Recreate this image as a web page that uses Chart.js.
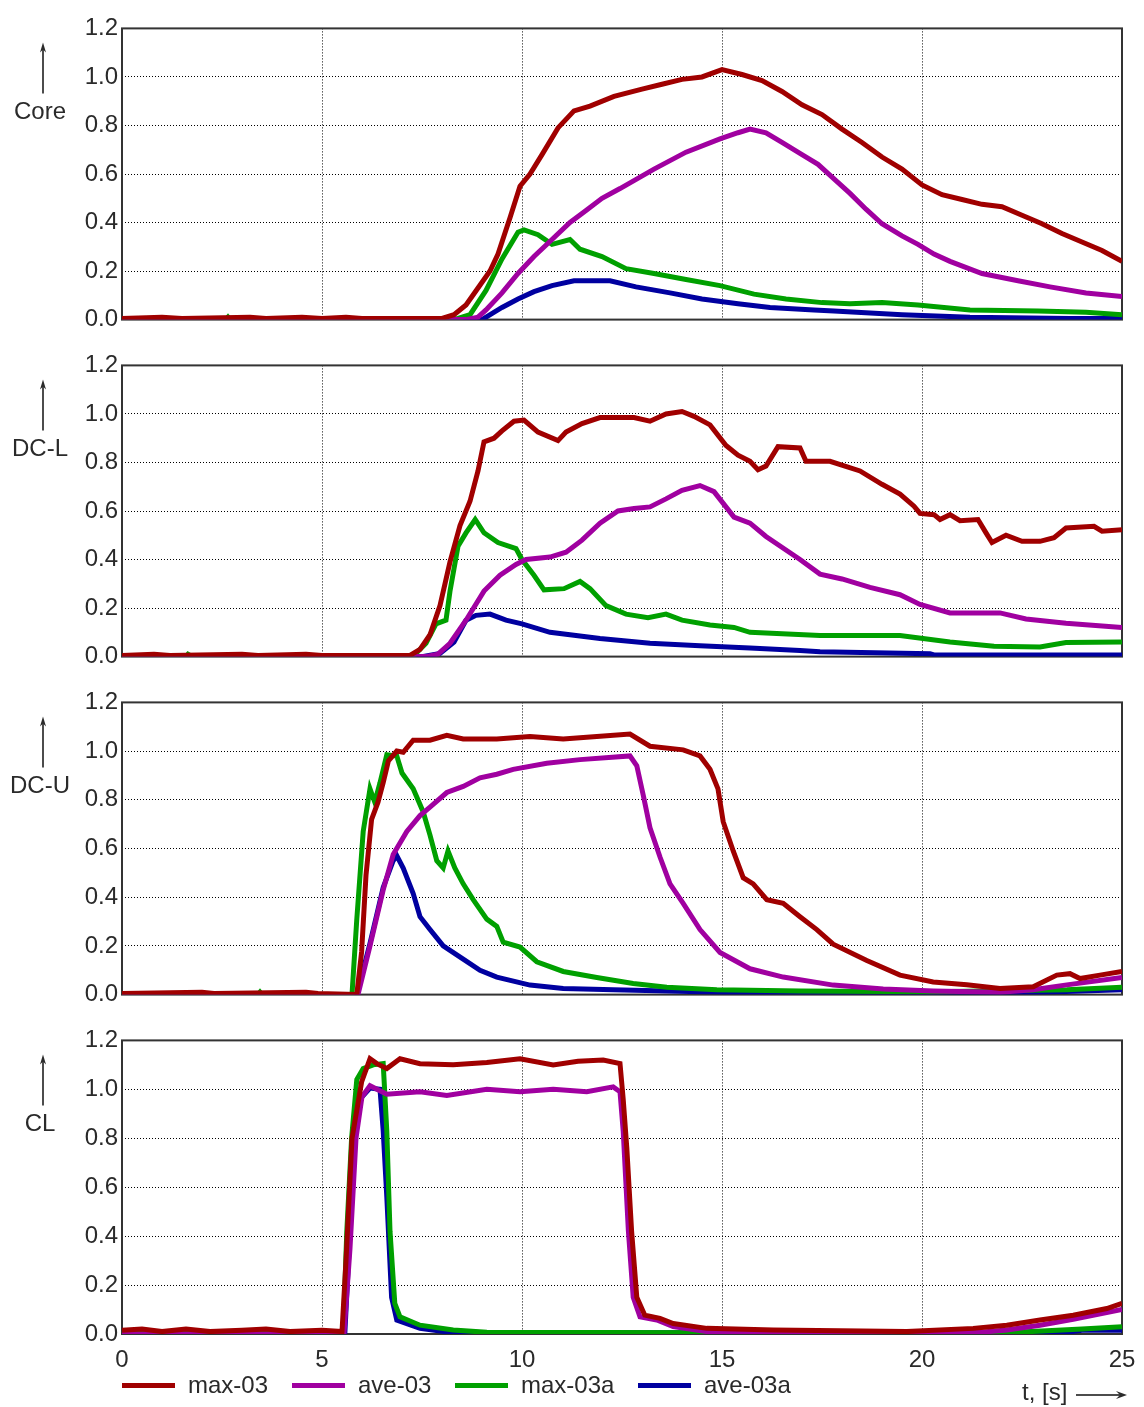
<!DOCTYPE html>
<html>
<head>
<meta charset="utf-8">
<script src="https://cdn.jsdelivr.net/npm/chart.js@4.4.1/dist/chart.umd.min.js"></script>
<style>
  body { margin: 0; background: #fff; }
  #wrap { position: relative; width: 1144px; height: 1407px; background: #fff; overflow: hidden; }
  #wrap canvas { position: absolute; left: 0; }
  #legend { position: absolute; top: 1370px; left: 0; height: 30px; width: 1000px; font: 24px "Liberation Sans", Arial, sans-serif; color: #2a2a2a; }
  .item { position: absolute; top: 0; height: 30px; display: flex; align-items: center; }
  .swatch { width: 53px; height: 5px; margin-right: 13px; }
</style>
</head>
<body>
<div id="wrap">
  <canvas id="core"></canvas>
  <canvas id="dcl"></canvas>
  <canvas id="dcu"></canvas>
  <canvas id="cl"></canvas>
  <div id="legend"></div>
</div>
<script>
// series names and colours
const seriesNames = ['max-03', 'ave-03', 'max-03a', 'ave-03a'];
const seriesColors = ['#a00000', '#a000a0', '#00a000', '#0000a0'];

// x ticks every 5 s, y ticks every 0.2
const timeTicks = [0, 5, 10, 15, 20, 25];
const valueTicks = [0, 0.2, 0.4, 0.6, 0.8, 1.0, 1.2];

// ---- Core ----  [t, value]
const coreMax03 = [[0,0.005],[1,0.01],[1.5,0.005],[3.2,0.01],[3.6,0.005],[4.5,0.01],[5,0.005],[5.6,0.01],[6,0.005],[8.0,0.005],[8.3,0.02],[8.6,0.06],[8.9,0.13],[9.2,0.2],[9.4,0.27],[9.7,0.42],[9.95,0.55],[10.2,0.6],[10.5,0.68],[10.9,0.79],[11.3,0.86],[11.7,0.88],[12.3,0.92],[13,0.95],[13.5,0.97],[14,0.99],[14.5,1.0],[15,1.03],[15.5,1.01],[16,0.985],[16.5,0.94],[17,0.885],[17.5,0.845],[18,0.785],[18.5,0.73],[19,0.67],[19.5,0.62],[20,0.555],[20.5,0.515],[21,0.495],[21.5,0.475],[22,0.465],[22.5,0.43],[23,0.395],[23.5,0.355],[24,0.32],[24.5,0.285],[25,0.24]];
const coreAve03 = [[0,0],[8.6,0],[8.9,0.01],[9.1,0.04],[9.5,0.11],[9.9,0.19],[10.3,0.26],[10.75,0.33],[11.2,0.4],[11.6,0.45],[12.0,0.5],[12.45,0.54],[13.3,0.62],[14.1,0.69],[14.95,0.745],[15.4,0.77],[15.7,0.785],[16.1,0.77],[16.5,0.73],[17.0,0.68],[17.4,0.64],[17.8,0.58],[18.2,0.52],[18.6,0.455],[19.0,0.395],[19.5,0.345],[19.9,0.31],[20.3,0.27],[20.7,0.24],[21.5,0.19],[22.4,0.16],[23.2,0.135],[24.1,0.11],[25,0.095]];
const coreMax03a = [[0,0],[2.6,0],[2.65,0.01],[2.7,0],[6.0,0],[8.4,0.005],[8.7,0.02],[9.1,0.12],[9.5,0.25],[9.9,0.36],[10.05,0.37],[10.4,0.35],[10.75,0.31],[11.2,0.33],[11.45,0.29],[12.0,0.26],[12.6,0.21],[13.3,0.19],[14.1,0.165],[14.95,0.14],[15.8,0.105],[16.6,0.085],[17.5,0.07],[18.2,0.065],[19,0.07],[19.9,0.06],[21.2,0.04],[22.9,0.035],[24.1,0.03],[25,0.02]];
const coreAve03a = [[0,0],[9.0,0],[9.5,0.05],[9.9,0.085],[10.3,0.115],[10.75,0.14],[11.3,0.16],[12.2,0.16],[12.85,0.135],[13.7,0.11],[14.5,0.085],[15.4,0.065],[16.2,0.05],[17.3,0.04],[17.8,0.035],[19.5,0.02],[21.2,0.01],[23.7,0.005],[25,0.005]];

// ---- DC-L ----
const dclMax03 = [[0,0.005],[0.8,0.01],[1.2,0.005],[3.0,0.01],[3.4,0.005],[4.6,0.01],[5,0.005],[7.2,0.005],[7.45,0.03],[7.7,0.09],[7.95,0.21],[8.2,0.39],[8.45,0.54],[8.7,0.64],[8.9,0.765],[9.05,0.885],[9.3,0.9],[9.5,0.93],[9.8,0.97],[10.05,0.975],[10.4,0.925],[10.9,0.89],[11.1,0.925],[11.5,0.96],[11.95,0.985],[12.8,0.985],[13.2,0.97],[13.6,1.0],[14.0,1.01],[14.3,0.99],[14.7,0.955],[15.1,0.87],[15.4,0.83],[15.7,0.805],[15.9,0.77],[16.1,0.785],[16.4,0.865],[16.95,0.86],[17.1,0.805],[17.7,0.805],[18.45,0.765],[19.0,0.71],[19.45,0.67],[19.8,0.62],[19.95,0.59],[20.3,0.585],[20.45,0.565],[20.7,0.585],[20.95,0.56],[21.4,0.565],[21.6,0.51],[21.75,0.47],[22.1,0.5],[22.5,0.475],[22.95,0.475],[23.3,0.49],[23.6,0.53],[24.3,0.537],[24.5,0.517],[25,0.523]];
const dclAve03 = [[0,0],[7.6,0],[7.9,0.01],[8.2,0.055],[8.6,0.15],[9.05,0.27],[9.45,0.335],[9.85,0.38],[10.1,0.40],[10.7,0.41],[11.1,0.43],[11.5,0.48],[11.95,0.55],[12.4,0.60],[12.8,0.61],[13.2,0.617],[13.6,0.65],[14.0,0.685],[14.45,0.705],[14.8,0.68],[15.3,0.575],[15.7,0.55],[16.1,0.495],[16.95,0.40],[17.45,0.34],[18.0,0.32],[18.7,0.285],[19.45,0.255],[19.95,0.215],[20.7,0.18],[21.95,0.18],[22.6,0.155],[23.6,0.137],[25,0.12]];
const dclMax03a = [[0,0],[1.6,0],[1.65,0.01],[1.75,0],[6.5,0],[7.3,0.005],[7.6,0.055],[7.85,0.135],[8.1,0.15],[8.2,0.27],[8.4,0.455],[8.6,0.51],[8.83,0.565],[9.05,0.51],[9.4,0.47],[9.85,0.445],[10.0,0.40],[10.3,0.335],[10.55,0.275],[11.05,0.28],[11.45,0.31],[11.7,0.28],[12.1,0.21],[12.6,0.175],[13.15,0.16],[13.6,0.175],[14.0,0.15],[14.7,0.13],[15.3,0.12],[15.7,0.10],[17.45,0.087],[19.45,0.087],[20.7,0.06],[21.8,0.043],[22.95,0.04],[23.6,0.058],[25,0.06]];
const dclAve03a = [[0,0],[7.5,0],[7.95,0.013],[8.3,0.06],[8.6,0.15],[8.85,0.17],[9.2,0.175],[9.6,0.15],[10.0,0.135],[10.7,0.10],[11.95,0.075],[13.2,0.055],[14.45,0.045],[15.7,0.035],[16.95,0.025],[17.45,0.02],[20.2,0.012],[20.3,0.007],[25,0.007]];

// ---- DC-U ----
const dcuMax03 = [[0,0.005],[2.0,0.01],[2.3,0.005],[4.6,0.01],[4.9,0.005],[5.87,0],[5.99,0.175],[6.1,0.49],[6.24,0.72],[6.4,0.79],[6.53,0.87],[6.66,0.96],[6.87,1.0],[7.03,0.995],[7.28,1.045],[7.7,1.045],[8.12,1.065],[8.53,1.05],[9.37,1.05],[10.2,1.06],[11.03,1.05],[11.87,1.06],[12.7,1.07],[13.2,1.02],[14.03,1.005],[14.45,0.98],[14.7,0.925],[14.9,0.845],[15.03,0.71],[15.28,0.59],[15.53,0.48],[15.78,0.455],[16.12,0.39],[16.53,0.375],[16.95,0.32],[17.37,0.267],[17.78,0.207],[18.62,0.14],[19.45,0.08],[20.28,0.052],[21.12,0.04],[21.95,0.025],[22.78,0.032],[23.37,0.08],[23.7,0.086],[23.95,0.066],[24.45,0.08],[25,0.095]];
const dcuAve03 = [[0,0],[5.9,0],[6.2,0.2],[6.53,0.43],[6.78,0.575],[7.12,0.67],[7.45,0.735],[7.7,0.77],[8.12,0.83],[8.53,0.855],[8.95,0.89],[9.37,0.905],[9.78,0.925],[10.62,0.95],[11.45,0.965],[12.7,0.98],[12.87,0.94],[13.03,0.82],[13.2,0.685],[13.45,0.565],[13.7,0.455],[14.03,0.375],[14.45,0.267],[14.95,0.173],[15.7,0.106],[16.53,0.072],[17.78,0.039],[19.03,0.023],[20.28,0.015],[21.95,0.01],[22.78,0.02],[23.62,0.04],[25,0.07]];
const dcuMax03a = [[0,0],[3.4,0],[3.45,0.01],[3.5,0],[5.75,0],[5.87,0.31],[6.03,0.67],[6.2,0.845],[6.32,0.79],[6.45,0.87],[6.62,0.985],[6.87,0.98],[7.0,0.91],[7.28,0.845],[7.53,0.75],[7.7,0.655],[7.87,0.55],[8.03,0.52],[8.15,0.59],[8.32,0.52],[8.53,0.455],[8.78,0.39],[9.12,0.31],[9.37,0.28],[9.53,0.215],[9.95,0.195],[10.37,0.135],[11.03,0.095],[11.87,0.07],[12.78,0.046],[13.62,0.03],[14.87,0.02],[16.95,0.015],[20.28,0.012],[23.62,0.02],[25,0.03]];
const dcuAve03a = [[0,0],[5.87,0],[6.2,0.21],[6.53,0.44],[6.78,0.55],[6.87,0.57],[7.03,0.52],[7.28,0.415],[7.45,0.32],[7.7,0.267],[8.03,0.2],[8.53,0.146],[8.95,0.1],[9.37,0.072],[10.2,0.039],[11.03,0.025],[12.28,0.02],[15,0.01],[23,0.01],[25,0.02]];

// ---- CL ----
const clMax03 = [[0,0.015],[0.5,0.02],[1,0.01],[1.6,0.02],[2.2,0.01],[3.0,0.015],[3.6,0.02],[4.2,0.01],[5.0,0.015],[5.5,0.01],[5.6,0.3],[5.75,0.8],[5.99,1.03],[6.2,1.125],[6.37,1.105],[6.62,1.085],[6.95,1.125],[7.45,1.105],[8.28,1.1],[9.12,1.11],[9.95,1.125],[10.78,1.1],[11.4,1.115],[12.03,1.12],[12.45,1.105],[12.53,0.96],[12.62,0.76],[12.74,0.42],[12.87,0.15],[13.07,0.077],[13.45,0.064],[13.78,0.043],[14.62,0.023],[16.28,0.016],[19.62,0.01],[21.28,0.023],[22.12,0.036],[22.95,0.057],[23.78,0.077],[24.62,0.104],[25,0.125]];
const clAve03 = [[0,0],[5.55,0],[5.7,0.35],[5.85,0.8],[6.0,0.97],[6.2,1.015],[6.62,0.98],[7.45,0.99],[8.12,0.975],[9.12,1.0],[9.95,0.99],[10.78,1.0],[11.62,0.99],[12.28,1.01],[12.45,0.99],[12.53,0.83],[12.66,0.42],[12.78,0.15],[12.95,0.07],[13.37,0.057],[13.78,0.03],[14.62,0.01],[21.3,0.005],[22.12,0.016],[22.95,0.036],[23.78,0.06],[25,0.1]];
const clMax03a = [[0,0.005],[1.2,0.01],[1.5,0.005],[3.0,0.01],[3.3,0.005],[5.53,0],[5.62,0.42],[5.74,0.8],[5.87,1.04],[6.03,1.085],[6.28,1.1],[6.53,1.105],[6.62,0.83],[6.7,0.42],[6.82,0.125],[6.95,0.07],[7.45,0.036],[8.28,0.016],[9.12,0.007],[15,0.005],[22,0.005],[23,0.012],[24,0.02],[25,0.03]];
const clAve03a = [[0,0],[5.57,0],[5.7,0.42],[5.82,0.83],[5.95,0.96],[6.2,1.005],[6.45,1.0],[6.53,0.83],[6.62,0.56],[6.74,0.15],[6.87,0.057],[7.45,0.023],[8.28,0.005],[23.5,0.005],[24.0,0.015],[25,0.015]];

const panels = [
  { id: 'core', label: 'Core', top: 25,   bottom: 323,  series: [coreMax03, coreAve03, coreMax03a, coreAve03a] },
  { id: 'dcl',  label: 'DC-L', top: 362,  bottom: 660,  series: [dclMax03, dclAve03, dclMax03a, dclAve03a] },
  { id: 'dcu',  label: 'DC-U', top: 699,  bottom: 998,  series: [dcuMax03, dcuAve03, dcuMax03a, dcuAve03a] },
  { id: 'cl',   label: 'CL',   top: 1037, bottom: 1334, series: [clMax03, clAve03, clMax03a, clAve03a] }
];

const FONT = '"Liberation Sans", Arial, sans-serif';
const TEXT = '#2a2a2a';
const PAD_TOP = 15;

function drawArrowUp(ctx, x, y1, y2) {
  ctx.beginPath();
  ctx.moveTo(x, y2);
  ctx.lineTo(x, y1 + 4);
  ctx.stroke();
  ctx.beginPath();
  ctx.moveTo(x, y1);
  ctx.lineTo(x - 3, y1 + 10);
  ctx.lineTo(x, y1 + 7);
  ctx.lineTo(x + 3, y1 + 10);
  ctx.closePath();
  ctx.fill();
}

function drawArrowRight(ctx, x1, x2, y) {
  ctx.beginPath();
  ctx.moveTo(x1, y);
  ctx.lineTo(x2 - 4, y);
  ctx.stroke();
  ctx.beginPath();
  ctx.moveTo(x2, y);
  ctx.lineTo(x2 - 11, y - 4);
  ctx.lineTo(x2 - 7, y);
  ctx.lineTo(x2 - 11, y + 4);
  ctx.closePath();
  ctx.fill();
}

// frame round the plot area, drawn under the curves
const framePlugin = {
  id: 'frame',
  beforeDatasetsDraw(chart) {
    const a = chart.chartArea;
    const ctx = chart.ctx;
    ctx.save();
    ctx.strokeStyle = '#333';
    ctx.lineWidth = 2;
    ctx.strokeRect(a.left, a.top, a.right - a.left, a.bottom - a.top);
    ctx.restore();
  },
  afterDraw(chart, args, opts) {
    const ctx = chart.ctx;
    const top = chart.chartArea.top;
    ctx.save();
    ctx.fillStyle = TEXT;
    ctx.strokeStyle = '#111';
    ctx.lineWidth = 1.5;
    drawArrowUp(ctx, 43, top + 14, top + 65);
    ctx.font = '24px ' + FONT;
    ctx.textAlign = 'center';
    ctx.textBaseline = 'middle';
    ctx.fillText(opts.title, 40, top + 84);
    if (opts.timeAxis) {
      const y = chart.height - 14;
      ctx.textAlign = 'left';
      ctx.fillText('t, [s]', 1022, y);
      drawArrowRight(ctx, 1076, 1127, y + 2);
    }
    ctx.restore();
  }
};

function edgeHidden(ctx) {
  return (ctx.index === 0 || ctx.index === ctx.scale.ticks.length - 1) ? 'rgba(0,0,0,0)' : '#000';
}

panels.forEach((p, n) => {
  const last = n === panels.length - 1;
  const plotH = p.bottom - p.top;
  const bottomSpace = last ? 1407 - p.bottom : 15;
  const canvas = document.getElementById(p.id);
  canvas.width = 1144;
  canvas.height = PAD_TOP + plotH + bottomSpace;
  canvas.style.top = (p.top - PAD_TOP) + 'px';

  new Chart(canvas, {
    type: 'line',
    data: {
      datasets: p.series.map((pts, i) => ({
        label: seriesNames[i],
        data: pts.map(d => ({ x: d[0], y: d[1] })),
        borderColor: seriesColors[i],
        backgroundColor: seriesColors[i],
        borderWidth: 5,
        pointRadius: 0,
        tension: 0,
        fill: false
      }))
    },
    options: {
      responsive: false,
      animation: false,
      devicePixelRatio: 1,
      layout: { padding: { top: PAD_TOP, right: 22, left: 0, bottom: 0 } },
      plugins: {
        legend: { display: false },
        tooltip: { enabled: false },
        frame: { title: p.label, timeAxis: last }
      },
      scales: {
        x: {
          type: 'linear',
          min: 0,
          max: 25,
          afterBuildTicks: s => { s.ticks = timeTicks.map(v => ({ value: v })); },
          afterFit: s => {
            s.height = bottomSpace;
            s.paddingLeft = 0;
            s.paddingRight = 0;
          },
          grid: { color: edgeHidden, lineWidth: 1, drawTicks: false },
          border: { display: false, dash: [1, 2] },
          ticks: {
            display: last,
            padding: 12,
            color: TEXT,
            font: { family: FONT, size: 24 },
            maxRotation: 0
          }
        },
        y: {
          min: 0,
          max: 1.2,
          afterBuildTicks: s => { s.ticks = valueTicks.map(v => ({ value: v })); },
          afterFit: s => { s.width = 122; },
          grid: { color: edgeHidden, lineWidth: 1, drawTicks: false },
          border: { display: false, dash: [1, 2] },
          ticks: {
            padding: 4,
            color: TEXT,
            font: { family: FONT, size: 24 },
            callback: v => v.toFixed(1)
          }
        }
      }
    },
    plugins: [framePlugin]
  });
});

// legend row under the last panel
const legendLeft = [122, 292, 455, 638];
const legendEl = document.getElementById('legend');
seriesNames.forEach((name, i) => {
  const item = document.createElement('div');
  item.className = 'item';
  item.style.left = legendLeft[i] + 'px';
  const sw = document.createElement('span');
  sw.className = 'swatch';
  sw.style.background = seriesColors[i];
  const tx = document.createElement('span');
  tx.textContent = name;
  item.appendChild(sw);
  item.appendChild(tx);
  legendEl.appendChild(item);
});
</script>
</body>
</html>
